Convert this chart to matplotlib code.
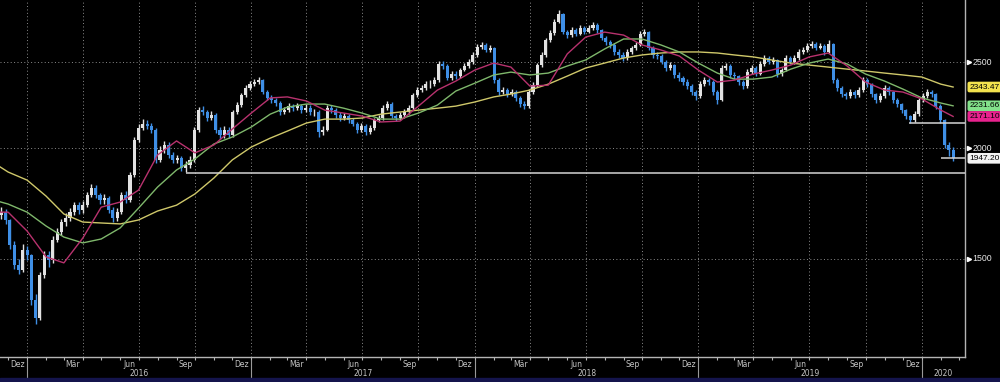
import numpy as np
import pandas as pd
import matplotlib
matplotlib.use("Agg")
from matplotlib import pyplot as plt
import matplotlib.transforms as mtransforms
from matplotlib.patches import Rectangle

# %% weekly candles
week_start = "2015-11-13"
close = [
    1680, 1693, 1659, 1555, 1476, 1457, 1534, 1514, 1348, 1286,
    1438, 1514, 1495, 1575, 1608, 1650, 1668, 1693, 1724, 1702,
    1724, 1770, 1802, 1770, 1747, 1756, 1702, 1668, 1693, 1770,
    1747, 1864, 2042, 2107, 2129, 2118, 2096, 1939, 1990, 2016,
    1964, 1939, 1949, 1899, 1914, 1939, 2096, 2207, 2196, 2162,
    2179, 2096, 2069, 2096, 2069, 2196, 2236, 2295, 2337, 2361,
    2374, 2386, 2313, 2278, 2266, 2248, 2196, 2207, 2230, 2218,
    2230, 2207, 2218, 2196, 2196, 2085, 2096, 2218, 2207, 2179,
    2162, 2173, 2151, 2129, 2096, 2118, 2085, 2107, 2151, 2162,
    2218, 2242, 2173, 2162, 2179, 2196, 2218, 2295, 2325, 2337,
    2361, 2361, 2386, 2488, 2475, 2398, 2424, 2411, 2449, 2475,
    2501, 2547, 2600, 2614, 2580, 2594, 2386, 2313, 2325, 2301,
    2313, 2278, 2242, 2230, 2313, 2355, 2481, 2547, 2648, 2696,
    2774, 2833, 2703, 2682, 2717, 2689, 2731, 2703, 2731, 2753,
    2717, 2662, 2634, 2614, 2567, 2547, 2527, 2567, 2594, 2614,
    2689, 2703, 2594, 2547, 2540, 2501, 2462, 2481, 2418, 2398,
    2374, 2349, 2313, 2289, 2361, 2386, 2374, 2313, 2266, 2462,
    2475, 2418, 2411, 2374, 2349, 2436, 2462, 2424, 2488, 2527,
    2501, 2514, 2424, 2449, 2527, 2501, 2527, 2567, 2580, 2607,
    2621, 2594, 2607, 2567, 2621, 2386, 2337, 2301, 2289, 2313,
    2295, 2325, 2386, 2361, 2301, 2266, 2289, 2337, 2313, 2266,
    2242, 2207, 2173, 2151, 2184, 2266, 2289, 2313, 2301, 2230,
    2151, 2016, 1990, 1947.2,
]
high = [
    1725, 1715, 1705, 1665, 1570, 1500, 1560, 1550, 1520, 1370,
    1450, 1530, 1530, 1590, 1625, 1665, 1690, 1710, 1740, 1740,
    1745, 1785, 1820, 1815, 1780, 1775, 1765, 1715, 1710, 1785,
    1790, 1880, 2060, 2130, 2155, 2150, 2135, 2105, 2010, 2035,
    2030, 1980, 1965, 1960, 1935, 1960, 2110, 2225, 2230, 2210,
    2200, 2190, 2110, 2115, 2110, 2210, 2255, 2310, 2355, 2380,
    2395, 2405, 2395, 2325, 2295, 2280, 2260, 2225, 2250, 2245,
    2250, 2245, 2240, 2235, 2215, 2205, 2115, 2235, 2235, 2220,
    2195, 2190, 2185, 2165, 2140, 2135, 2130, 2125, 2165, 2180,
    2235, 2260, 2255, 2185, 2195, 2215, 2235, 2310, 2345, 2355,
    2380, 2385, 2405, 2505, 2510, 2485, 2445, 2440, 2465, 2495,
    2520, 2565, 2620, 2635, 2625, 2615, 2600, 2400, 2345, 2340,
    2330, 2325, 2290, 2260, 2330, 2375, 2495, 2565, 2665, 2720,
    2795, 2860, 2840, 2720, 2740, 2735, 2750, 2745, 2750, 2775,
    2765, 2725, 2675, 2650, 2625, 2585, 2565, 2585, 2610, 2635,
    2710, 2725, 2710, 2605, 2565, 2555, 2515, 2500, 2490, 2435,
    2410, 2390, 2360, 2325, 2380, 2405, 2400, 2385, 2325, 2480,
    2495, 2485, 2435, 2420, 2385, 2455, 2480, 2475, 2505, 2545,
    2540, 2535, 2520, 2465, 2545, 2540, 2545, 2585, 2600, 2625,
    2640, 2635, 2625, 2620, 2645, 2630, 2400, 2350, 2315, 2330,
    2325, 2345, 2405, 2400, 2370, 2310, 2310, 2355, 2350, 2320,
    2280, 2250, 2215, 2180, 2200, 2280, 2310, 2330, 2325, 2310,
    2240, 2155, 2030, 2005,
]
low = [
    1660, 1665, 1640, 1540, 1460, 1440, 1450, 1495, 1330, 1265,
    1280, 1425, 1470, 1485, 1565, 1595, 1635, 1655, 1680, 1685,
    1690, 1715, 1760, 1755, 1730, 1730, 1690, 1650, 1655, 1685,
    1735, 1740, 1855, 2030, 2095, 2100, 2080, 1925, 1930, 1975,
    1950, 1925, 1925, 1885, 1880, 1900, 1930, 2085, 2180, 2145,
    2150, 2080, 2050, 2055, 2055, 2060, 2185, 2225, 2285, 2325,
    2350, 2360, 2300, 2265, 2250, 2230, 2180, 2185, 2195, 2200,
    2205, 2190, 2195, 2180, 2175, 2060, 2070, 2090, 2190, 2165,
    2145, 2150, 2135, 2115, 2080, 2085, 2070, 2075, 2095, 2140,
    2150, 2205, 2160, 2145, 2150, 2165, 2185, 2210, 2285, 2315,
    2325, 2340, 2350, 2375, 2455, 2385, 2385, 2395, 2400, 2440,
    2465, 2490, 2535, 2590, 2565, 2570, 2370, 2295, 2300, 2285,
    2290, 2260, 2225, 2215, 2220, 2300, 2345, 2470, 2535, 2635,
    2685, 2765, 2690, 2665, 2670, 2675, 2680, 2690, 2695, 2720,
    2700, 2645, 2615, 2595, 2550, 2530, 2505, 2515, 2555, 2580,
    2605, 2675, 2580, 2530, 2520, 2485, 2445, 2450, 2400, 2380,
    2355, 2330, 2295, 2265, 2280, 2350, 2355, 2295, 2245, 2260,
    2450, 2400, 2395, 2355, 2330, 2340, 2425, 2410, 2415, 2475,
    2485, 2490, 2405, 2410, 2440, 2485, 2490, 2515, 2555, 2565,
    2595, 2580, 2585, 2550, 2560, 2370, 2320, 2285, 2270, 2275,
    2280, 2285, 2315, 2345, 2285, 2250, 2255, 2280, 2295, 2250,
    2225, 2190, 2155, 2134, 2140, 2175, 2255, 2280, 2285, 2215,
    2135, 2000, 1960, 1935,
]
first_open = 1700

# %% moving averages, sampled monthly
ma_dates = (["2015-11-18"]
            + [d.strftime("%Y-%m-%d") for d in pd.date_range("2015-12-01", "2020-02-01", freq="MS")]
            + ["2020-02-21"])
ma_short = [
    1693, 1693,
    1612, 1507, 1484, 1583, 1715, 1738, 1793, 1964, 2037, 1975, 2016, 2101,
    2190, 2278, 2284, 2260, 2207, 2190, 2173, 2140, 2145, 2230, 2325, 2380,
    2449, 2494, 2468, 2349, 2355, 2554, 2668, 2703, 2682, 2614, 2580, 2540,
    2449, 2374, 2386, 2424, 2449, 2481, 2534, 2560, 2475, 2374, 2325, 2313,
    2272, 2207, 2171.10,
]
ma_mid = [
    1739, 1729,
    1693, 1633, 1587, 1563, 1579, 1625, 1711, 1807, 1889, 1944, 2021, 2058,
    2112, 2184, 2224, 2242, 2242, 2218, 2190, 2156, 2156, 2190, 2236, 2319,
    2367, 2418, 2436, 2418, 2430, 2475, 2514, 2587, 2655, 2655, 2614, 2567,
    2494, 2430, 2392, 2392, 2405, 2455, 2494, 2520, 2488, 2424, 2380, 2331,
    2278, 2248, 2231.66,
]
ma_long = [
    1904, 1879,
    1840, 1765, 1685, 1650, 1646, 1642, 1659, 1698, 1724, 1775, 1850, 1939,
    2005, 2052, 2090, 2134, 2156, 2156, 2162, 2184, 2196, 2207, 2218, 2230,
    2254, 2284, 2301, 2325, 2361, 2411, 2462, 2494, 2527, 2547, 2560, 2567,
    2567, 2560, 2547, 2534, 2514, 2494, 2481, 2468, 2455, 2443, 2430, 2418,
    2405, 2361, 2343.47,
]

# horizontal levels
level_values = [1875, 2134, 1947.2]
level_starts = ["2016-09-16", "2019-12-11", "2020-02-02"]

price_ticks = [1500, 2000, 2500]
last_labels = ["2343.47", "2231.66", "2171.10", "1947.20"]
last_values = [2343.47, 2231.66, 2171.10, 1947.20]
last_colors = ["#f2e24e", "#82e08a", "#e8228e", "#f4f4f4"]

month_names = {12: "Dez", 3: "Mär", 6: "Jun", 9: "Sep"}
years = [2016, 2017, 2018, 2019, 2020]

# %% figure
x_left = pd.Timestamp("2015-11-17 18:00")
x_right = pd.Timestamp("2020-03-11 10:00")

fig = plt.figure(figsize=(10, 3.82), dpi=100, facecolor="black")
ax = fig.add_axes([0, 25 / 382, 0.965, 357 / 382])
ax.set_facecolor("black")
ax.set_yscale("log")
ax.set_ylim(1162, 2938)
ax.set_xlim(x_left, x_right)

grid_kw = dict(color="#8c8c8c", lw=0.7, linestyle=(0, (1, 2.5)), zorder=1)
for q in pd.date_range("2016-01-01", "2020-01-01", freq="QS"):
    ax.axvline(q, **grid_kw)
for p in price_ticks:
    ax.axhline(p, **grid_kw)

# candles
dates = pd.date_range(week_start, periods=len(close), freq="7D")
c = np.array(close, dtype=float)
o = np.r_[first_open, c[:-1]]
up = c >= o
cols = np.where(up, "#e2e2e2", "#3f8fe6")
ax.vlines(dates, low, high, colors=cols, lw=1.0, zorder=2)
ax.bar(dates, c - o, bottom=o, width=5.0, color=cols, linewidth=0, zorder=3)

# moving averages
md = pd.to_datetime(ma_dates)
ax.plot(md, ma_long, color="#cfc86a", lw=1.0, zorder=4)
ax.plot(md, ma_mid, color="#7fb86c", lw=1.0, zorder=4)
ax.plot(md, ma_short, color="#b8326e", lw=1.0, zorder=4)

# levels
for v, s in zip(level_values, level_starts):
    ax.hlines(v, pd.Timestamp(s), x_right, color="#d4d4d4", lw=1.1, zorder=5)

# spines
for side in ["left", "top"]:
    ax.spines[side].set_visible(False)
for side in ["right", "bottom"]:
    ax.spines[side].set_color("#b4b4b4")
    ax.spines[side].set_linewidth(1.0)

ax.yaxis.set_minor_locator(matplotlib.ticker.NullLocator())
ax.set_yticks([])
ax.tick_params(axis="y", which="both", length=0, labelleft=False, labelright=False)

months = pd.date_range("2015-12-01", "2020-03-01", freq="MS")
ax.set_xticks(months)
ax.set_xticklabels([])
ax.tick_params(axis="x", which="major", length=2.5, width=0.8, color="#b4b4b4", direction="out")

# right price scale
ty = mtransforms.blended_transform_factory(ax.transAxes, ax.transData)
for p in price_ticks:
    ax.plot([1.004], [p], marker=">", ms=3, color="white", transform=ty, clip_on=False)
    ax.text(1.008, p, str(p), transform=ty, color="#e6e6e6", fontsize=6.3,
            family="Liberation Sans", va="center", ha="left", clip_on=False)
for lab, v, fc in zip(last_labels, last_values, last_colors):
    ax.text(1.0045, v, lab, transform=ty, color="black", fontsize=6.0,
            family="Liberation Sans", va="center", ha="left", clip_on=False,
            bbox=dict(boxstyle="round,pad=0.22", fc=fc, ec="none"))

# date axis labels
tx = mtransforms.blended_transform_factory(ax.transData, ax.transAxes)
for d in months:
    if d.month in month_names and d < pd.Timestamp("2020-01-01"):
        ax.text(d + pd.Timedelta(days=15), -0.02, month_names[d.month], transform=tx,
                color="#c4c4c4", fontsize=5.5, ha="center", va="center")
for yr in years:
    y0 = pd.Timestamp(f"{yr}-01-01")
    y1 = min(pd.Timestamp(f"{yr + 1}-01-01"), x_right)
    ax.plot([y0, y0], [-0.008, -0.058], transform=tx, color="#9a9a9a", lw=0.8, clip_on=False)
    ax.text(y0 + (y1 - y0) / 2, -0.045, str(yr), transform=tx,
            color="#c4c4c4", fontsize=5.5, ha="center", va="center")

fig.patches.append(Rectangle((0, 0), 1, 4 / 382, transform=fig.transFigure,
                             color="#14144c", zorder=0))

fig.savefig("out.png", dpi=100, facecolor="black")
